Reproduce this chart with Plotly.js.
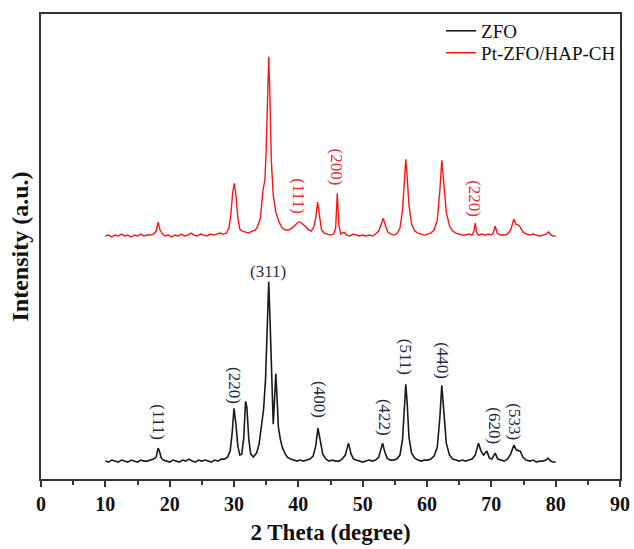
<!DOCTYPE html>
<html>
<head>
<meta charset="utf-8">
<script src="https://cdn.plot.ly/plotly-3.0.1.min.js"></script>
<style>html,body{margin:0;padding:0;background:#fff;}#chart{width:634px;height:549px;}</style>
</head>
<body>
<div id="chart"></div>
<script>
// ZFO pattern (2θ in degrees, intensity in arbitrary units)
const zfoTheta = [10.0,10.5,11,11.5,12,12.5,13,13.5,14,14.5,15,15.5,16,16.5,17,17.5,17.9,18.2,18.4,18.7,19,19.5,20,20.5,21,21.5,22,22.5,23,23.5,24,24.5,25,25.5,26,26.5,27,27.5,28,28.5,29,29.4,29.7,30.0,30.3,30.6,30.9,31.2,31.5,31.8,32.0,32.3,32.6,33.0,33.5,33.9,34.3,34.6,34.9,35.2,35.4,35.6,35.9,36.1,36.3,36.5,36.7,36.9,37.2,37.5,37.9,38.3,38.8,39.3,39.8,40.3,40.8,41.3,41.8,42.3,42.7,43.05,43.4,43.8,44.3,44.8,45.3,45.8,46.3,46.8,47.3,47.8,48.2,48.6,49,49.5,50,50.5,51,51.5,52,52.5,52.9,53.1,53.4,53.8,54.3,54.8,55.3,55.8,56.2,56.5,56.7,56.9,57.2,57.6,58.1,58.6,59.1,59.6,60.1,60.6,61.1,61.6,62.0,62.3,62.6,63.0,63.5,64,64.5,65,65.5,66,66.5,67,67.5,68.0,68.4,68.8,69.3,69.7,70.1,70.6,71.0,71.5,72,72.5,73.0,73.5,73.9,74.5,74.9,75.4,76,76.5,77,77.5,78,78.5,78.8,79.2,79.6,80];
const zfoIntensity = [18,17,19,18,17,19,18,17,19,18,17,19,18,18,19,20,22,31,28,21,19,18,17,19,18,17,19,18,20,18,17,19,18,19,18,17,19,18,20,20,22,28,45,71,55,33,24,25,40,78,72,40,25,22,26,35,55,70,100,170,198,160,90,55,80,106,80,52,40,32,26,22,20,19,18,19,18,19,20,23,33,51,38,25,20,18,19,18,18,20,24,36,25,20,19,18,17,18,19,18,19,22,30,36,28,21,19,19,20,24,40,75,95,78,42,26,21,19,18,19,19,20,23,32,62,94,68,36,24,20,19,18,19,18,19,20,24,36,28,24,28,21,20,26,20,19,18,20,25,34,29,28,22,19,18,19,17,18,18,19,21,18,17,17];

// Pt-ZFO/HAP-CH pattern (offset upward in the original figure)
const ptTheta = [10,10.5,11,11.5,12,12.5,13,13.5,14,14.5,15,15.5,16,16.5,17,17.5,17.9,18.2,18.5,18.9,19.3,19.8,20.3,20.8,21.3,21.8,22.3,22.8,23.3,23.8,24.3,24.8,25.3,25.8,26.3,26.8,27.3,27.8,28.3,28.8,29.2,29.5,29.8,30.05,30.3,30.6,30.9,31.3,31.8,32.3,32.8,33.3,33.7,34.1,34.5,34.8,35.0,35.2,35.4,35.6,35.8,36.1,36.5,37,37.5,38,38.5,39,39.5,40,40.3,40.7,41.2,41.6,42,42.4,42.7,43.0,43.3,43.6,44,44.5,45,45.5,45.8,46.05,46.3,46.6,47.1,47.5,48,48.5,49,49.5,50,50.5,51,51.5,52,52.5,52.9,53.2,53.5,53.9,54.4,54.9,55.4,55.8,56.2,56.5,56.7,56.9,57.2,57.6,58.1,58.6,59.1,59.6,60.1,60.6,61.1,61.6,62.0,62.3,62.6,63.0,63.5,64,64.5,65,65.5,66,66.5,67,67.3,67.5,67.7,68,68.5,69,69.5,70,70.3,70.6,70.9,71.4,72,72.5,73,73.5,73.8,74.2,74.5,74.9,75.4,76,76.5,77,77.5,78,78.5,78.9,79.3,79.7,80];
const ptIntensity = [244,245,243,245,244,246,244,245,243,245,244,246,244,245,245,246,249,258,250,246,244,245,243,245,244,246,244,245,247,245,244,246,245,244,246,245,246,247,246,247,252,265,288,297,285,262,251,249,248,247,249,250,254,262,290,300,330,390,424,380,320,285,268,258,252,250,250,252,255,258,258,256,253,250,249,253,262,278,262,250,247,246,245,246,252,287,255,246,248,245,244,246,245,244,245,244,245,244,246,249,256,262,255,248,246,245,247,252,270,300,321,305,275,256,249,247,246,245,246,247,250,260,290,320,298,268,254,249,247,246,245,245,246,245,249,257,248,245,246,245,246,245,247,254,247,245,245,246,250,261,256,255,253,248,246,245,246,245,244,245,246,248,245,244,244];

// Reflection labels
const zfoLabels = ['(111)','(220)','(311)','(400)','(422)','(511)','(440)','(620)','(533)'];
const zfoLabelX = [18.34,30.05,35.33,43.26,53.37,56.69,62.38,70.57,73.68];
const zfoLabelY = [57,94,208,80,62,123,119,54,58];
const zfoLabelAngle = [90,90,0,90,90,90,90,90,90];
const ptLabels = ['(111)','(200)','(220)'];
const ptLabelX = [40.1,45.97,67.47];
const ptLabelY = [284,313,282];

const xTickVals = [0,10,20,30,40,50,60,70,80,90];
const seriesNames = ['ZFO','Pt-ZFO/HAP-CH'];

const serif = 'Liberation Serif, Times New Roman, serif';

const traces = [
  {x: zfoTheta, y: zfoIntensity, name: seriesNames[0], type: 'scatter', mode: 'lines',
   line: {color: '#1a1a1a', width: 1.6}, legend: 'legend'},
  {x: ptTheta, y: ptIntensity, name: seriesNames[1], type: 'scatter', mode: 'lines',
   line: {color: '#ff1414', width: 1.4}, legend: 'legend2'}
];

const annotations = [];
zfoLabels.forEach((t, i) => annotations.push({
  x: zfoLabelX[i], y: zfoLabelY[i], xref: 'x', yref: 'y', text: t, showarrow: false,
  textangle: zfoLabelAngle[i], font: {family: serif, size: 17, color: '#1f2a48'}
}));
ptLabels.forEach((t, i) => annotations.push({
  x: ptLabelX[i], y: ptLabelY[i], xref: 'x', yref: 'y', text: t, showarrow: false,
  textangle: 90, font: {family: serif, size: 17, color: '#e8303a'}
}));

const legendCommon = {xanchor: 'left', yanchor: 'middle', bgcolor: 'rgba(0,0,0,0)',
  font: {family: serif, size: 19, color: '#111'}, itemwidth: 30};

const layout = {
  width: 634, height: 549,
  margin: {l: 41, r: 14, t: 12, b: 70, pad: 0},
  paper_bgcolor: '#fff', plot_bgcolor: '#fff',
  font: {family: serif, color: '#111'},
  showlegend: true,
  legend: Object.assign({x: 0.691, y: 0.9636}, legendCommon),
  legend2: Object.assign({x: 0.691, y: 0.9165}, legendCommon),
  xaxis: {
    range: [0, 90], tickvals: xTickVals, ticktext: xTickVals.map(String),
    ticks: 'outside', ticklen: 6, tickwidth: 2, tickcolor: '#333',
    minor: {dtick: 5, tick0: 0, ticks: 'outside', ticklen: 4, tickwidth: 2, tickcolor: '#333'},
    showline: true, linecolor: '#333', linewidth: 2, mirror: true,
    showgrid: false, zeroline: false,
    tickfont: {family: serif, size: 20, color: '#111', weight: 'bold'},
    title: {text: '<b>2 Theta (degree)</b>', font: {family: serif, size: 23, color: '#111'}, standoff: 10}
  },
  yaxis: {
    range: [0, 467], showticklabels: false, ticks: '',
    showline: true, linecolor: '#333', linewidth: 2, mirror: true,
    showgrid: false, zeroline: false,
    title: {text: '<b>Intensity (a.u.)</b>', font: {family: serif, size: 24, color: '#111'}, standoff: 4}
  },
  annotations: annotations
};

Plotly.newPlot('chart', traces, layout, {displayModeBar: false, staticPlot: true});
</script>
</body>
</html>
